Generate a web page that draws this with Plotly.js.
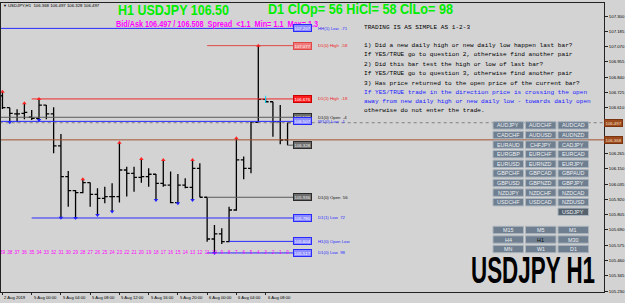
<!DOCTYPE html>
<html><head><meta charset="utf-8">
<script src="https://cdn.plot.ly/plotly-3.0.1.min.js"></script>
<style>html,body{margin:0;padding:0;background:#d3d3d3;overflow:hidden}#chart{width:625px;height:303px}</style>
</head><body><div id="chart"></div>
<script>
// ---------- DATA ----------
const barNumbers = [39,38,37,36,35,34,33,32,31,30,29,28,27,26,25,24,23,22,21,20,19,18,17,16,15,14,13,12,11,10,9,8,7,6,5,4,3,2,1,0];
const opens  = [106.700,106.610,106.563,106.568,106.538,106.530,106.630,106.563,106.322,106.091,105.986,105.971,106.046,105.958,105.928,105.941,105.941,106.141,106.116,106.086,106.091,106.109,106.041,106.028,105.896,106.028,106.011,106.154,105.936,105.622,105.660,105.602,105.840,106.217,106.154,106.500,106.673,106.655,106.505,106.368];
const highs  = [106.731,106.610,106.598,106.643,106.593,106.676,106.630,106.613,106.412,106.134,105.990,106.071,106.048,106.003,106.016,106.041,106.347,106.166,106.166,106.224,106.154,106.111,106.217,106.129,106.111,106.079,106.217,106.192,105.936,105.728,105.702,105.865,106.380,106.242,106.505,107.077,106.676,106.655,106.630,106.497];
const lows   = [106.600,106.500,106.500,106.523,106.518,106.518,106.523,106.267,105.782,105.865,105.780,105.966,105.865,105.803,105.891,105.828,105.896,105.941,105.978,106.046,106.016,105.916,106.016,105.891,105.891,106.003,105.916,105.936,105.602,105.517,105.585,105.597,105.835,106.071,106.116,106.495,106.650,106.392,106.335,106.328];
const closes = [106.610,106.568,106.563,106.575,106.530,106.630,106.563,106.322,106.091,105.986,105.971,106.046,105.958,105.928,105.941,105.941,106.141,106.116,106.086,106.091,106.109,106.041,106.028,105.896,106.028,106.011,106.154,105.936,105.622,105.660,105.602,105.840,106.217,106.154,106.500,106.673,106.655,106.505,106.367,106.497];
const upArrowBars   = [39,36,34,28,23,20,17,13,7,4];
const downArrowBars = [38,34,31,29,26,24,18,15,13,10];
const markerBar = 3;
const markerPrices = [106.700, 106.645];

const timeLabels    = ["2 Aug 2019","5 Aug 00:00","5 Aug 04:00","5 Aug 08:00","5 Aug 12:00","5 Aug 16:00","5 Aug 20:00","6 Aug 00:00","6 Aug 04:00","6 Aug 08:00"];
const timeLabelBars = [39,35,31,27,23,19,15,11,7,3];

const priceTicks = [107.300,107.185,107.070,106.955,106.840,106.725,106.610,106.265,106.150,106.035,105.920,105.805,105.690,105.575,105.460,105.345,105.230];

const currentOHLC = [106.368, 106.497, 106.328, 106.497];
const bidPrice = 106.497, askPrice = 106.508;

const levelPrices = [107.207, 107.077, 106.676, 106.538, 106.507, 106.328, 105.936, 105.780, 105.604, 105.517];
const levelStart  = [null, 11, 35, null, null, 0, 11, 35, 8, 11];
const levelKinds  = ["blue","red","red2","grey","blue","grey","grey","blue","blue","blue"];
const levelTexts  = ["HH(1) Low  -71","D1(0) High  -58","D1(1) High  -18","D1(0) Open  -4","W1(0) Low  -1","","D1(0) Open  56","D1(1) Low  72","H1(0) Open Low","D1(0) Low  98"];

const headline1 = "H1 USDJPY 106.50";
const headline2 = "D1 ClOp= 56 HiCl= 58 ClLo= 98";
const spreadNow = "<1.1", spreadMin = "1.1", spreadMax = "1.3";
const infoLines = [
 "TRADING IS AS SIMPLE AS 1-2-3",
 "1) Did a new daily high or new daily low happen last bar?",
 "If YES/TRUE go to question 2, otherwise find another pair",
 "2) Did this bar test the high or low of last bar?",
 "If YES/TRUE go to question 3, otherwise find another pair",
 "3) Has price returned to the open price of the current bar?",
 "If YES/TRUE trade in the direction price is crossing the open",
 "away from new daily high or new daily low - towards daily open",
 "otherwise do not enter the trade."];
const infoBlue = [false,false,false,false,false,false,true,true,false];

const pairRows = [["AUDJPY","AUDCHF","AUDCAD"],["CADCHF","AUDUSD","AUDNZD"],["EURAUD","CHFJPY","CADJPY"],["EURGBP","EURCHF","EURCAD"],["EURUSD","EURNZD","EURJPY"],["GBPCHF","GBPCAD","GBPAUD"],["GBPUSD","GBPNZD","GBPJPY"],["NZDJPY","NZDCHF","NZDCAD"],["USDCHF","USDCAD","NZDUSD"],["","","USDJPY"]];
const tfRows = [["M15","M5","M1"],["H4","H1","M30"],["MN","W1","D1"]];
const activePair = "USDJPY", activeTF = "H1";
const bigTitle = "USDJPY H1";

// ---------- GEOMETRY ----------
const T = 3, B = 292, L = 1, R = 604;
const yTop = 107.398, yBot = 105.223;
const xLo = -0.2, xHi = 82.29;
const xp = px => (px - L) / (R - L);
const yp = py => (B - py) / (B - T);
const pxX = px => xLo + (px - L) * (xHi - xLo) / (R - L);
const pyY = py => yTop - (py - T) * (yTop - yBot) / (B - T);
const barX = n => 39 - n;
const xs = barNumbers.map(barX);

const styles = {
  blue: {line:"#2a2aff", box:"#8c8cff", border:"#2a2aff", txt:"#2a2aff", boxTxt:"#ffffff"},
  red:  {line:"#e04848", box:"#f07a7a", border:"#e04848", txt:"#ee2020", boxTxt:"#ffffff"},
  red2: {line:"#ee2a2a", box:"#ff1c1c", border:"#cc0000", txt:"#ee2020", boxTxt:"#ffffff"},
  grey: {line:"#5a5a5a", box:"#6e6e6e", border:"#2a2a2a", txt:"#111111", boxTxt:"#f0f0f0"}
};

const traces = [];
traces.push({type:"scatter", mode:"lines", x:[xLo-1, xHi+1], y:[bidPrice, bidPrice], line:{color:"#808080", width:1, dash:"dot"}, hoverinfo:"skip"});
traces.push({type:"scatter", mode:"lines", x:[xLo-1, xHi+1], y:[currentOHLC[0], currentOHLC[0]], line:{color:"#a0522d", width:1}, hoverinfo:"skip"});

const lineEnd = pxX(293);
levelPrices.forEach((p, i) => {
  const st = styles[levelKinds[i]];
  const x0 = levelStart[i] === null ? xLo - 1 : barX(levelStart[i]);
  traces.push({type:"scatter", mode:"lines", x:[x0, lineEnd], y:[p, p], line:{color:st.line, width:1}, hoverinfo:"skip"});
});

traces.push({type:"ohlc", x:xs, open:opens, high:highs, low:lows, close:closes,
  increasing:{line:{color:"#000000", width:1.3}}, decreasing:{line:{color:"#000000", width:1.3}},
  tickwidth:0.4, hoverinfo:"skip"});

traces.push({type:"scatter", mode:"markers", x:upArrowBars.map(barX), y:upArrowBars.map(n => highs[39-n]),
  marker:{symbol:"triangle-up", size:4, color:"#ff2020"}, hoverinfo:"skip"});
traces.push({type:"scatter", mode:"markers", x:downArrowBars.map(barX), y:downArrowBars.map(n => lows[39-n]),
  marker:{symbol:"triangle-down", size:4, color:"#2020ff"}, hoverinfo:"skip"});
traces.push({type:"scatter", mode:"lines", x:[barX(markerBar), barX(markerBar)], y:markerPrices, line:{color:"#00d8ff", width:1}, hoverinfo:"skip"});

traces.push({type:"scatter", mode:"text", x:xs, y:xs.map(() => pyY(253)), text:barNumbers.map(String),
  textfont:{family:"Liberation Sans, Arial", size:4.6, color:"#ff00ff"}, cliponaxis:true, hoverinfo:"skip"});

// ---------- ANNOTATIONS / SHAPES ----------
const ann = [];
const shapes = [];
const sans = "Liberation Sans, Arial, sans-serif";
const mono = "Liberation Mono, DejaVu Sans Mono, monospace";

function pa(text, px, py, opts) {
  ann.push(Object.assign({text:text, xref:"paper", yref:"paper", x:xp(px), y:yp(py), xanchor:"left", yanchor:"middle", showarrow:false, borderpad:0}, opts || {}));
}

// condensed display texts: natural font size gives the width, a vertical stretch gives the height
const spreadText = "Bid/Ask " + bidPrice.toFixed(3) + " / " + askPrice.toFixed(3) + "  Spread  " + spreadNow + "  Min= " + spreadMin + "  Max= " + spreadMax;
const fitSpec = {};
fitSpec[headline1]  = {w:111, k:1.24};
fitSpec[headline2]  = {w:185, k:1.11};
fitSpec[spreadText] = {w:202, k:1.12};
fitSpec[bigTitle]   = {w:124, k:1.62};

pa("\u25BC", 1.5, 5.5, {font:{family:sans, size:4, color:"#000"}});
pa("USDJPY,H1  " + currentOHLC.map(v => v.toFixed(3)).join(" "), 7, 5.5, {font:{family:sans, size:4.3, color:"#000"}});
pa(headline1, 117, 9.5, {font:{family:sans, size:11.3, color:"#00ee00", weight:"bold"}});
pa(headline2, 267, 9.5, {font:{family:sans, size:12.6, color:"#00ee00", weight:"bold"}});
pa(spreadText, 115, 24, {font:{family:sans, size:7.4, color:"#ff00ff", weight:"bold"}});

const infoY = [28, 46, 55, 64, 73.5, 83, 92, 101, 110];
infoLines.forEach((t, i) => pa(t, 363, infoY[i], {font:{family:mono, size:6.1, color: infoBlue[i] ? "#2020ff" : "#000"}}));

levelPrices.forEach((p, i) => {
  const st = styles[levelKinds[i]];
  ann.push({text:p.toFixed(3), xref:"x", yref:"y", x:lineEnd, y:p, xanchor:"left", yanchor:"middle", showarrow:false,
    bgcolor:st.box, bordercolor:st.border, borderwidth:1, borderpad:0.5, font:{family:sans, size:4.3, color:st.boxTxt}});
  if (levelTexts[i]) ann.push({text:levelTexts[i], xref:"x", yref:"y", x:pxX(316), y:p, xanchor:"left", yanchor:"middle", showarrow:false,
    font:{family:sans, size:4.3, color:st.txt}});
});

[bidPrice, currentOHLC[0]].forEach(p => ann.push({text:p.toFixed(3), xref:"paper", yref:"y", x:1, y:p, xanchor:"left", yanchor:"middle",
  showarrow:false, bgcolor:"#9c4a1e", bordercolor:"#7a3510", borderwidth:1, borderpad:0.5, font:{family:sans, size:4.3, color:"#f8e0c8"}}));

timeLabels.forEach((t, i) => ann.push({text:t, xref:"x", yref:"paper", x:barX(timeLabelBars[i]), y:yp(297.5), xanchor:"left", yanchor:"middle",
  showarrow:false, font:{family:sans, size:4.2, color:"#000"}}));

const colLeft = [493, 525.5, 558], bw = 30.5, bh = 7.4;
function button(label, left, top, active) {
  shapes.push({type:"rect", xref:"paper", yref:"paper", x0:xp(left), x1:xp(left + bw), y0:yp(top + bh), y1:yp(top),
    fillcolor: label === activePair ? "#56626e" : "#6f7f90", line:{color:"#aab4be", width:1}, layer:"above"});
  ann.push({text:label, xref:"paper", yref:"paper", x:xp(left + bw/2), y:yp(top + bh/2), xanchor:"center", yanchor:"middle", showarrow:false,
    font:{family:sans, size:5.4, color: active ? "#0a0a0a" : "#eef0f2"}});
}
pairRows.forEach((row, r) => row.forEach((lab, c) => { if (lab) button(lab, colLeft[c], 121.7 + r*9.6, false); }));
tfRows.forEach((row, r) => row.forEach((lab, c) => button(lab, colLeft[c], 226.3 + r*9.5, lab === activeTF)));

pa(bigTitle, 470, 270.5, {font:{family:sans, size:22.3, color:"#000", weight:"bold"}});

const layout = {
  width:625, height:303, margin:{l:L, r:625-R, t:T, b:303-B, pad:0},
  paper_bgcolor:"#d3d3d3", plot_bgcolor:"#d3d3d3", showlegend:false,
  xaxis:{range:[xLo, xHi], showgrid:false, zeroline:false, showline:true, mirror:true, linecolor:"#222", linewidth:1,
    tickvals:timeLabelBars.map(barX), ticks:"outside", ticklen:2, tickcolor:"#222", showticklabels:false, rangeslider:{visible:false}, fixedrange:true},
  yaxis:{range:[yBot, yTop], side:"right", showgrid:false, zeroline:false, showline:true, mirror:true, linecolor:"#222", linewidth:1,
    tickvals:priceTicks, ticktext:priceTicks.map(v => v.toFixed(3)), ticks:"outside", ticklen:3, tickcolor:"#222",
    tickfont:{family:sans, size:4.3, color:"#000"}, fixedrange:true},
  annotations:ann, shapes:shapes
};

Plotly.newPlot("chart", traces, layout, {displayModeBar:false, staticPlot:true}).then(() => {
  document.querySelectorAll("text.annotation-text").forEach(el => {
    const spec = fitSpec[el.textContent];
    if (!spec) return;
    const bb = el.getBBox();
    el.setAttribute("text-anchor", "start");
    el.setAttribute("x", bb.x);
    el.setAttribute("textLength", spec.w);
    el.setAttribute("lengthAdjust", "spacingAndGlyphs");
    const cy = bb.y + bb.height / 2;
    el.setAttribute("transform", "translate(0," + (cy * (1 - spec.k)) + ") scale(1," + spec.k + ")");
  });
});
</script></body></html>
